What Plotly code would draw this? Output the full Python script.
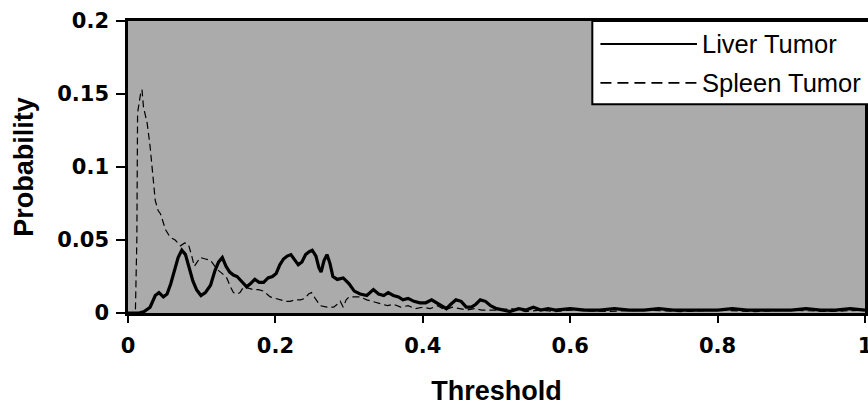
import plotly.graph_objects as go

# ---- data ----
liver_t = [0.000, 0.015, 0.022, 0.030, 0.037, 0.042, 0.048, 0.053, 0.058, 0.063,
           0.068, 0.073, 0.078, 0.083, 0.088, 0.093, 0.099, 0.105, 0.112, 0.118,
           0.123, 0.128, 0.133, 0.138, 0.143, 0.148, 0.154, 0.161, 0.166, 0.172,
           0.178, 0.184, 0.190, 0.196, 0.201, 0.206, 0.211, 0.216, 0.221, 0.226,
           0.231, 0.236, 0.241, 0.246, 0.250, 0.255, 0.259, 0.262, 0.266, 0.270,
           0.274, 0.278, 0.284, 0.292, 0.300, 0.307, 0.315, 0.324, 0.333, 0.340,
           0.347, 0.353, 0.360, 0.367, 0.373, 0.380, 0.388, 0.396, 0.404, 0.412,
           0.419, 0.426, 0.432, 0.438, 0.445, 0.452, 0.459, 0.466, 0.472, 0.478,
           0.485, 0.492, 0.500, 0.510, 0.518, 0.530, 0.540, 0.550, 0.560, 0.570,
           0.580, 0.600, 0.620, 0.640, 0.660, 0.680, 0.700, 0.720, 0.740, 0.760,
           0.780, 0.800, 0.820, 0.840, 0.860, 0.880, 0.900, 0.920, 0.940, 0.960,
           0.980, 1.000]
liver_p = [0.000, 0.000, 0.001, 0.004, 0.012, 0.014, 0.011, 0.013, 0.020, 0.030,
           0.038, 0.043, 0.040, 0.031, 0.022, 0.016, 0.012, 0.014, 0.019, 0.029,
           0.035, 0.038, 0.032, 0.028, 0.026, 0.025, 0.022, 0.018, 0.020, 0.023,
           0.021, 0.021, 0.024, 0.025, 0.027, 0.033, 0.037, 0.039, 0.040, 0.036,
           0.033, 0.035, 0.040, 0.042, 0.043, 0.039, 0.031, 0.028, 0.036, 0.040,
           0.034, 0.025, 0.023, 0.024, 0.020, 0.015, 0.013, 0.012, 0.016, 0.013,
           0.012, 0.014, 0.012, 0.011, 0.009, 0.010, 0.008, 0.007, 0.007, 0.009,
           0.007, 0.005, 0.003, 0.006, 0.009, 0.008, 0.004, 0.004, 0.006, 0.009,
           0.008, 0.005, 0.003, 0.002, 0.001, 0.003, 0.002, 0.004, 0.002, 0.003,
           0.002, 0.003, 0.002, 0.002, 0.003, 0.002, 0.002, 0.003, 0.002, 0.002,
           0.002, 0.002, 0.003, 0.002, 0.002, 0.002, 0.002, 0.003, 0.002, 0.002,
           0.003, 0.002]

spleen_t = [0.000, 0.010, 0.012, 0.013, 0.017, 0.019, 0.021, 0.026, 0.030, 0.033,
            0.037, 0.041, 0.044, 0.051, 0.057, 0.064, 0.071, 0.077, 0.082, 0.086,
            0.090, 0.094, 0.098, 0.105, 0.112, 0.118, 0.123, 0.128, 0.134, 0.139,
            0.143, 0.148, 0.152, 0.157, 0.163, 0.170, 0.177, 0.184, 0.193, 0.200,
            0.207, 0.214, 0.220, 0.227, 0.234, 0.240, 0.245, 0.249, 0.254, 0.261,
            0.270, 0.279, 0.284, 0.288, 0.292, 0.296, 0.300, 0.308, 0.315, 0.324,
            0.331, 0.338, 0.345, 0.352, 0.360, 0.370, 0.380, 0.390, 0.400, 0.410,
            0.420, 0.430, 0.440, 0.450, 0.460, 0.470, 0.480, 0.500, 0.520, 0.540,
            0.560, 0.580, 0.600, 0.650, 0.700, 0.750, 0.800, 0.850, 0.900, 0.950,
            1.000]
spleen_p = [0.000, 0.000, 0.050, 0.137, 0.150, 0.153, 0.141, 0.130, 0.114, 0.100,
            0.077, 0.070, 0.068, 0.057, 0.052, 0.050, 0.046, 0.048, 0.047, 0.040,
            0.032, 0.035, 0.038, 0.037, 0.036, 0.032, 0.029, 0.027, 0.024, 0.018,
            0.014, 0.013, 0.014, 0.018, 0.017, 0.016, 0.016, 0.015, 0.011, 0.010,
            0.009, 0.008, 0.008, 0.009, 0.009, 0.010, 0.013, 0.014, 0.010, 0.005,
            0.004, 0.004, 0.006, 0.008, 0.004, 0.009, 0.011, 0.011, 0.011, 0.009,
            0.008, 0.007, 0.006, 0.005, 0.006, 0.004, 0.005, 0.003, 0.004, 0.003,
            0.005, 0.002, 0.004, 0.003, 0.002, 0.003, 0.002, 0.002, 0.003, 0.001,
            0.002, 0.001, 0.002, 0.001, 0.002, 0.001, 0.002, 0.001, 0.002, 0.001,
            0.002]

x_ticks = [0, 0.2, 0.4, 0.6, 0.8, 1]
x_tick_labels = ["0", "0.2", "0.4", "0.6", "0.8", "1"]
y_ticks = [0, 0.05, 0.1, 0.15, 0.2]
y_tick_labels = ["0", "0.05", "0.1", "0.15", "0.2"]
series_names = ["Liver Tumor", "Spleen Tumor"]

FONT = "Liberation Sans, Arial, sans-serif"
TICKFONT = "DejaVu Sans, sans-serif"

fig = go.Figure()
fig.add_trace(go.Scatter(x=liver_t, y=liver_p, mode="lines", name=series_names[0],
                         line=dict(color="black", width=3.2), showlegend=False))
fig.add_trace(go.Scatter(x=spleen_t, y=spleen_p, mode="lines", name=series_names[1],
                         line=dict(color="black", width=1.2, dash="7px,4px"), showlegend=False))

# manual legend (long line samples as in the reference)
leg_x0, leg_x1, leg_y0, leg_y1 = 0.63, 1.01, 0.715, 1.0
fig.add_shape(type="rect", xref="paper", yref="paper", x0=leg_x0, x1=leg_x1, y0=leg_y0, y1=leg_y1,
              line=dict(color="black", width=2), fillcolor="white", layer="above")
rows_y = [0.921, 0.788]
dashes = ["solid", "11px,6px"]
widths = [2, 1.6]
for name, ry, d, w in zip(series_names, rows_y, dashes, widths):
    fig.add_shape(type="line", xref="paper", yref="paper", x0=0.641, x1=0.772, y0=ry, y1=ry,
                  line=dict(color="black", width=w, dash=d), layer="above")
    fig.add_annotation(xref="paper", yref="paper", x=0.776, y=ry, text=name, showarrow=False,
                       xanchor="left", yanchor="middle",
                       font=dict(family=FONT, size=25.5, color="black"))

fig.update_layout(
    width=868, height=406,
    margin=dict(l=128, r=3, t=21, b=93, autoexpand=False),
    paper_bgcolor="white",
    plot_bgcolor="#ababab",
    font=dict(family=FONT, color="black"),
)
fig.update_xaxes(range=[0, 1], tickvals=x_ticks, ticktext=x_tick_labels, automargin=False,
                 showgrid=False, zeroline=False, showline=True, linecolor="black", linewidth=3,
                 mirror=True, ticks="outside", ticklen=7, tickwidth=1.5, tickcolor="black",
                 tickfont=dict(family=TICKFONT, size=21, color="black", weight="bold"),
                 ticklabelstandoff=5, ticklabeloverflow="allow",
                 title=dict(text="<b>Threshold</b>", font=dict(family=FONT, size=27, color="black"),
                            standoff=32))
fig.update_yaxes(range=[0, 0.2], tickvals=y_ticks, ticktext=y_tick_labels, automargin=False,
                 showgrid=False, zeroline=False, showline=True, linecolor="black", linewidth=2.5,
                 mirror=True, ticks="outside", ticklen=9, tickwidth=1.5, tickcolor="black",
                 tickfont=dict(family=TICKFONT, size=21, color="black", weight="bold"),
                 ticklabelstandoff=3,
                 title=dict(text="<b>Probability</b>", font=dict(family=FONT, size=27, color="black"),
                            standoff=16))

# remove the page's default body margin / scrollbars so the figure fills the window
fig.write_html("out.html", config={"displayModeBar": False},
               post_script="document.body.style.margin='0';document.body.style.overflow='hidden';")
